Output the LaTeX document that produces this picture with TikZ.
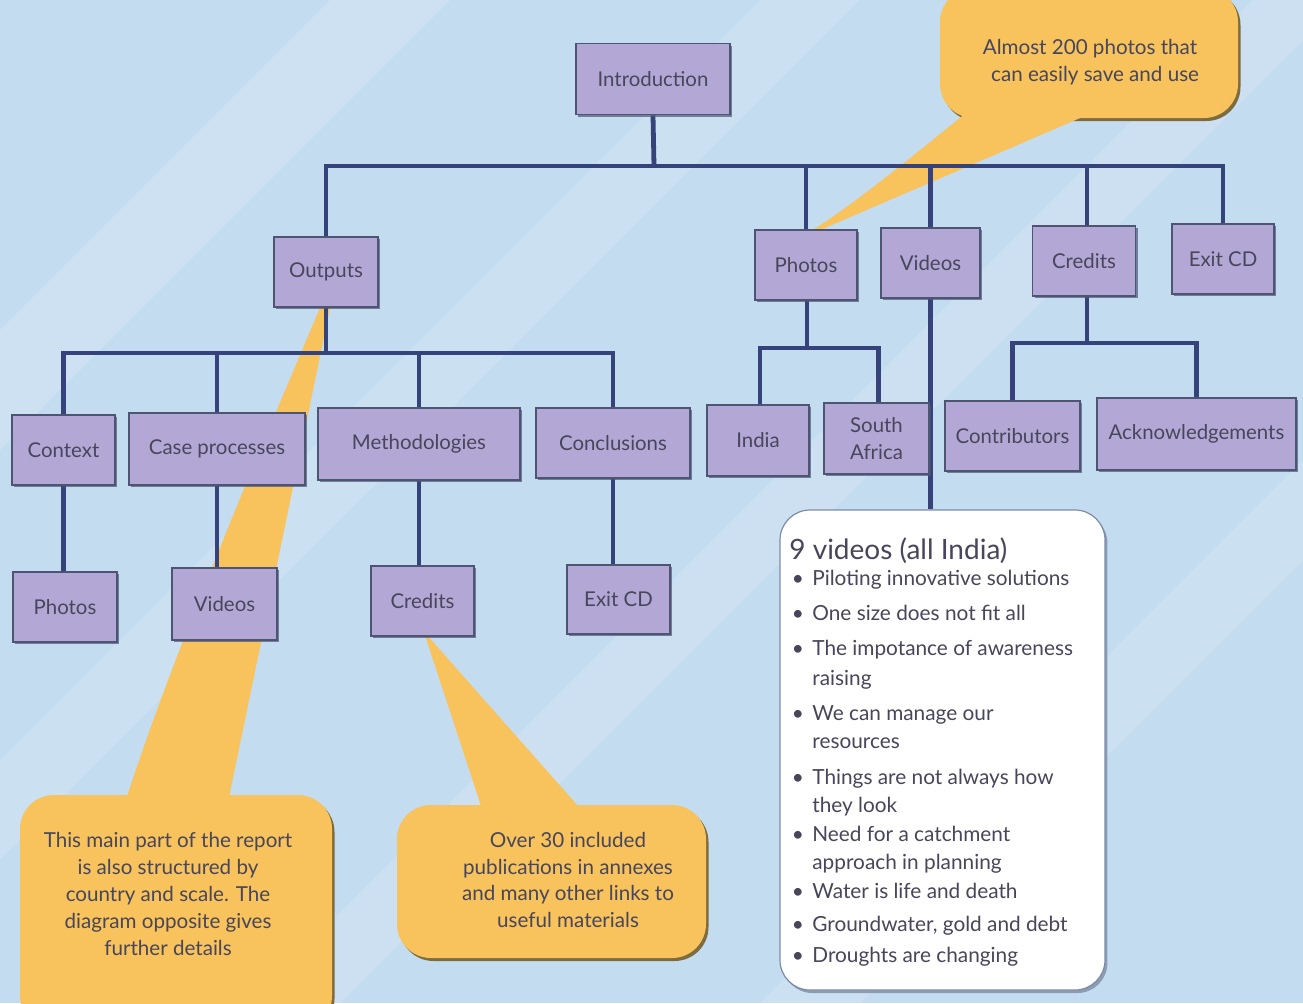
\documentclass[tikz,border=0pt]{standalone}
\usepackage{fontspec}
\setmainfont{Lato}
\usetikzlibrary{shadows}
\definecolor{bgblue}{HTML}{C4DCF0}
\definecolor{boxfill}{HTML}{B3A8D5}
\definecolor{boxedge}{HTML}{4E5573}
\definecolor{linkcol}{HTML}{36437A}
\definecolor{calloutcol}{HTML}{F8C25C}
\definecolor{calloutedge}{HTML}{7E6C3E}
\definecolor{txtcol}{HTML}{47465A}
\definecolor{vboxedge}{HTML}{7D8CA6}
\pgfdeclarelayer{bglayer}
\pgfdeclarelayer{calloutlayer}
\pgfdeclarelayer{linelayer}
\pgfsetlayers{bglayer,calloutlayer,linelayer,main}
\begin{document}
\begin{tikzpicture}[x=0.5pt,y=-0.5pt,
  menubox/.style={draw=boxedge, line width=0.8pt, fill=boxfill, text=txtcol,
    font=\fontsize{10.2}{12.5}\selectfont, inner sep=0pt, align=center,
    drop shadow={shadow xshift=1.1pt, shadow yshift=-1.1pt, fill=boxedge, opacity=0.7}},
  link/.style={draw=linkcol, line width=2.4pt},
  callouttext/.style={text=txtcol, font=\fontsize{10.3}{13.4}\selectfont, align=center, inner sep=0pt},
  calloutshape/.style={fill=calloutcol},
  calloutshadow/.style={fill=calloutedge},
  listtext/.style={text=txtcol, font=\fontsize{10.4}{12}\selectfont, anchor=base west, inner sep=0pt},
  bulletmark/.style={text=txtcol, font=\fontsize{10.4}{12}\selectfont, anchor=base, inner sep=0pt}]
\useasboundingbox (0,0) rectangle (1303,1003);

% ---------------- boxes ----------------
\node[menubox, minimum width=77pt, minimum height=35.5pt] (intro) at (653,79) {Introduction};
\node[menubox, minimum width=52pt, minimum height=35pt] (outputs) at (326,272) {Outputs};
\node[menubox, minimum width=51pt, minimum height=35pt] (photos1) at (806,265) {Photos};
\node[menubox, minimum width=49.5pt, minimum height=35pt] (videos1) at (930.5,263) {Videos};
\node[menubox, minimum width=51.5pt, minimum height=35pt] (credits1) at (1084,261) {Credits};
\node[menubox, minimum width=51pt, minimum height=35pt] (exit1) at (1223,259) {Exit CD};

\node[menubox, minimum width=51.5pt, minimum height=35pt] (context) at (63.5,450) {Context};
\node[menubox, minimum width=88pt, minimum height=36pt] (case) at (217,449) {Case processes};
\node[menubox, minimum width=101pt, minimum height=36pt] (meth) at (419,444) {Methodologies};
\node[menubox, minimum width=77pt, minimum height=35pt] (concl) at (613,443) {Conclusions};

\node[menubox, minimum width=52pt, minimum height=35pt] (photos2) at (65,607) {Photos};
\node[menubox, minimum width=52.5pt, minimum height=36pt] (videos2) at (224.5,604) {Videos};
\node[menubox, minimum width=51.5pt, minimum height=35pt] (credits2) at (422.5,601) {Credits};
\node[menubox, minimum width=51.5pt, minimum height=34.5pt] (exit2) at (618.5,599.5) {Exit CD};

\node[menubox, minimum width=51pt, minimum height=35.5pt] (india) at (758,440.5) {India};
\node[menubox, minimum width=52.5pt, minimum height=35.5pt] (safrica) at (876.5,438.5) {South\\[1pt]Africa};
\node[menubox, minimum width=67.5pt, minimum height=35pt] (contrib) at (1012.5,436) {Contributors};
\node[menubox, minimum width=99.5pt, minimum height=36pt] (ack) at (1196.5,434) {Acknowledgements};

% ---------------- videos list box ----------------
\node[draw=vboxedge, line width=0.6pt, fill=white, rounded corners=15pt,
  minimum width=162.5pt, minimum height=240pt, inner sep=0pt,
  drop shadow={shadow xshift=1.2pt, shadow yshift=-1.5pt, fill=vboxedge, opacity=0.8}]
  (vbox) at (942.5,750) {};
\node[text=txtcol, font=\fontsize{14}{16}\selectfont, anchor=base west, inner sep=0pt] (vtitle) at (789,559) {9 videos (all India)};
\foreach \yy/\tt [count=\i] in {
  585/{Piloting innovative solutions},
  620/{One size does not fit all},
  655/{The impotance of awareness},
  720/{We can manage our},
  784/{Things are not always how},
  841/{Need for a catchment},
  898/{Water is life and death},
  931/{Groundwater, gold and debt},
  962/{Droughts are changing}}{
  \node[bulletmark] (bul\i) at (798,\yy) {•};
  \node[listtext] (item\i) at (812,\yy) {\tt};
}
\node[listtext] (item3b) at (812,685) {raising};
\node[listtext] (item4b) at (812,748) {resources};
\node[listtext] (item5b) at (812,812) {they look};
\node[listtext] (item6b) at (812,869) {approach in planning};

% ---------------- callout texts ----------------
\node[callouttext] (c1text) at (1090,62) {Almost 200 photos that\\\hphantom{x}can easily save and use};
\node[callouttext] (c2text) at (168,894) {This main part of the report\\is also structured by\\country and scale. The\\diagram opposite gives\\further details};
\node[callouttext] (c3text) at (568,880) {Over 30 included\\publications in annexes\\and many other links to\\useful materials};

% ---------------- callout shapes ----------------
\begin{pgfonlayer}{calloutlayer}
  \begin{scope}[shift={(2.5,3)}]
    \fill[calloutshadow, rounded corners=17pt] (940,-12) rectangle (1238,118);
    \fill[calloutshadow, rounded corners=17pt] (20,795) rectangle (332,1030);
    \fill[calloutshadow, rounded corners=17pt] (397,805) rectangle (706,958);
  \end{scope}
  \fill[calloutshape, rounded corners=17pt] (940,-12) rectangle (1238,118);
  \fill[calloutshape] (982,100) .. controls (920,150) and (860,200) .. ([xshift=4pt]photos1.north)
     -- ([xshift=8pt]photos1.north) -- (1122,100) -- cycle;
  \fill[calloutshape, rounded corners=17pt] (20,795) rectangle (332,1030);
  \fill[calloutshape] (122,812) .. controls (170,660) and (260,450) .. ([xshift=-3pt]outputs.south)
     -- ([xshift=2pt]outputs.south) -- (226,812) -- cycle;
  \fill[calloutshape, rounded corners=17pt] (397,805) rectangle (706,958);
  \fill[calloutshape] (484,815) -- ([xshift=1.5pt]credits2.south) -- ([xshift=3pt]credits2.south) -- (586,815) -- cycle;
\end{pgfonlayer}

% ---------------- connectors ----------------
\begin{pgfonlayer}{linelayer}
  \coordinate (bus1) at (654,166);
  \coordinate (bus2) at (326,353);
  \coordinate (bus3) at (807,348);
  \coordinate (bus4) at (1087,343);
  \draw[link] (intro.south) -- (bus1);
  \draw[link] (outputs.north) |- (bus1) -| (exit1.north);
  \draw[link] (photos1.north) -- (photos1.north |- bus1);
  \draw[link] (videos1.north) -- (videos1.north |- bus1);
  \draw[link] (credits1.north -| bus4) -- (bus4 |- bus1);
  \draw[link] (videos1.south) -- (videos1.south |- vbox.north);

  \draw[link] (outputs.south) -- (bus2);
  \draw[link] (context.north) |- (bus2) -| (concl.north);
  \draw[link] (case.north) -- (case.north |- bus2);
  \draw[link] (meth.north) -- (meth.north |- bus2);
  \draw[link] (context.south) -- (context.south |- photos2.north);
  \draw[link] (case.south) -- (case.south |- videos2.north);
  \draw[link] (meth.south) -- (meth.south |- credits2.north);
  \draw[link] (concl.south) -- (concl.south |- exit2.north);

  \draw[link] (photos1.south -| bus3) -- (bus3);
  \draw[link] ([xshift=1pt]india.north) |- (bus3) -| ([xshift=1pt]safrica.north);
  \draw[link] (credits1.south -| bus4) -- (bus4);
  \draw[link] (contrib.north) |- (bus4) -| (ack.north);
\end{pgfonlayer}

% ---------------- background ----------------
\begin{pgfonlayer}{bglayer}
  \fill[bgblue] (0,0) rectangle (1303,1003);
  \fill[white, opacity=0.16] (0,330) -- (330,0) -- (450,0) -- (0,450) -- cycle;
  \fill[white, opacity=0.12] (0,760) -- (760,0) -- (860,0) -- (0,860) -- cycle;
  \fill[white, opacity=0.14] (250,1003) -- (1253,0) -- (1303,0) -- (1303,40) -- (340,1003) -- cycle;
  \fill[white, opacity=0.12] (760,1003) -- (1303,460) -- (1303,560) -- (860,1003) -- cycle;
\end{pgfonlayer}
\end{tikzpicture}
\end{document}
